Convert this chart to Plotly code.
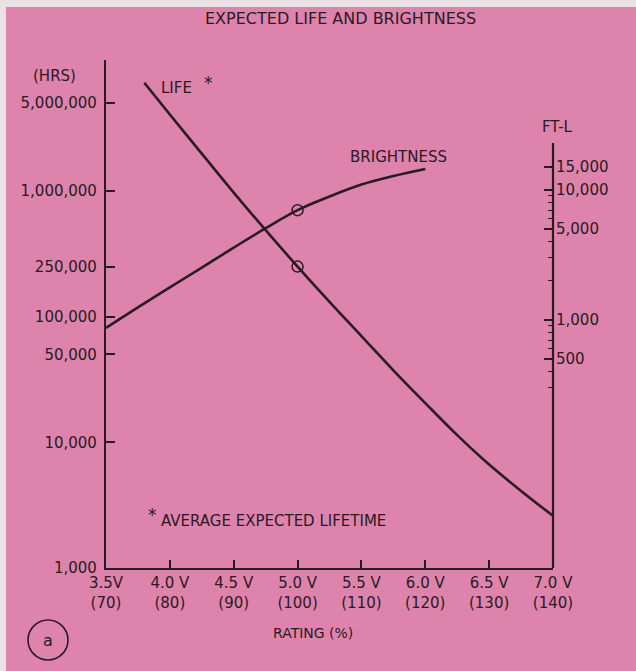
import plotly.graph_objects as go

# Lamp rating (volts) and expected life in hours
life_volts = [3.8, 4.0, 4.25, 4.5, 4.75, 5.0, 5.25, 5.5, 5.75, 6.0, 6.25, 6.5, 6.75, 7.0]
life_hours = [7250000, 4050000, 1980000, 970000, 487000, 250000, 131000, 70000,
              37400, 20500, 11400, 6650, 4100, 2600]

# Lamp rating (volts) and brightness in foot-lamberts
bright_volts = [3.5, 3.75, 4.0, 4.25, 4.5, 4.75, 5.0, 5.25, 5.5, 5.75, 6.0]
bright_ftl = [870, 1250, 1780, 2530, 3600, 5080, 7000, 8900, 11000, 12800, 14500]

# Rated operating point
rated_volts = 5.0

# Axis ticks
x_tickvals = [3.5, 4.0, 4.5, 5.0, 5.5, 6.0, 6.5, 7.0]
x_ticktext = ["3.5V<br>(70)", "4.0 V<br>(80)", "4.5 V<br>(90)", "5.0 V<br>(100)",
              "5.5 V<br>(110)", "6.0 V<br>(120)", "6.5 V<br>(130)", "7.0 V<br>(140)"]
hrs_tickvals = [1000, 10000, 50000, 100000, 250000, 1000000, 5000000]
hrs_ticktext = ["1,000", "10,000", "50,000", "100,000", "250,000", "1,000,000", "5,000,000"]
ftl_tickvals = [500, 1000, 5000, 10000, 15000]
ftl_ticktext = ["500", "1,000", "5,000", "10,000", "15,000"]
ftl_minorvals = [300, 400, 600, 700, 800, 900, 2000, 3000, 4000, 6000, 7000, 8000, 9000]

INK = "#2a1a24"
PINK = "#de83ab"
PAPER_EDGE = "#e8e2e5"
FONT = "DejaVu Sans"

W, H = 636, 671
L, R, T, B = 106, 553, 60, 568


def px(x):
    return (x - L) / (R - L)


def py(y):
    return (B - y) / (B - T)


fig = go.Figure()

fig.add_trace(go.Scatter(
    x=life_volts, y=life_hours, mode="lines", line=dict(color=INK, width=2.6, shape="spline"),
    yaxis="y", showlegend=False, hoverinfo="skip"))

fig.add_trace(go.Scatter(
    x=bright_volts, y=bright_ftl, mode="lines", line=dict(color=INK, width=2.6, shape="spline"),
    yaxis="y2", showlegend=False, hoverinfo="skip"))

# open circles marking the rated point on each curve
i_life = life_volts.index(rated_volts)
i_bright = bright_volts.index(rated_volts)
fig.add_trace(go.Scatter(
    x=[life_volts[i_life]], y=[life_hours[i_life]], mode="markers", yaxis="y",
    marker=dict(symbol="circle-open", size=11, color=INK, line=dict(width=1.5, color=INK)),
    showlegend=False, hoverinfo="skip"))
fig.add_trace(go.Scatter(
    x=[bright_volts[i_bright]], y=[bright_ftl[i_bright]], mode="markers", yaxis="y2",
    marker=dict(symbol="circle-open", size=11, color=INK, line=dict(width=1.5, color=INK)),
    showlegend=False, hoverinfo="skip"))

tickfont = dict(family=FONT, size=15, color=INK)


def label(text, x, y, size=15, xanchor="center"):
    return dict(text=text, xref="paper", yref="paper", x=px(x), y=py(y),
                xanchor=xanchor, yanchor="middle", showarrow=False,
                font=dict(family=FONT, size=size, color=INK))


fig.update_layout(
    width=W, height=H,
    margin=dict(l=L, r=W - R, t=T, b=H - B),
    paper_bgcolor=PINK, plot_bgcolor=PINK,
    font=dict(family=FONT, size=15, color=INK),
    xaxis=dict(
        range=[3.5, 7.0], tickmode="array", tickvals=x_tickvals, ticktext=x_ticktext,
        ticks="inside", ticklen=8, tickwidth=1.6, tickcolor=INK,
        showline=True, linewidth=2.2, linecolor=INK, showgrid=False, zeroline=False,
        tickfont=tickfont, ticklabelstandoff=0,
    ),
    yaxis=dict(
        type="log", range=[3, 3 + (B - T) / 125.7], tickmode="array",
        tickvals=hrs_tickvals, ticktext=hrs_ticktext,
        ticks="inside", ticklen=9, tickwidth=1.6, tickcolor=INK,
        showline=True, linewidth=2.2, linecolor=INK, showgrid=False, zeroline=False,
        tickfont=tickfont, ticklabelstandoff=4,
    ),
    yaxis2=dict(
        type="log", overlaying="y", side="right", range=[1.092, 5.0], tickmode="array",
        tickvals=ftl_tickvals, ticktext=ftl_ticktext,
        ticks="inside", ticklen=9, tickwidth=1.6, tickcolor=INK,
        minor=dict(tickmode="array", tickvals=ftl_minorvals, ticks="inside",
                   ticklen=5, tickwidth=1.4, tickcolor=INK, showgrid=False),
        showline=False, showgrid=False, zeroline=False,
        tickfont=tickfont, ticklabelstandoff=2,
    ),
    shapes=[
        # paper edge strips
        dict(type="rect", xref="paper", yref="paper", x0=px(0), x1=px(6), y0=py(0), y1=py(H),
             fillcolor=PAPER_EDGE, line=dict(width=0), layer="below"),
        dict(type="rect", xref="paper", yref="paper", x0=px(0), x1=px(W), y0=py(0), y1=py(7),
             fillcolor=PAPER_EDGE, line=dict(width=0), layer="below"),
        # right-hand brightness axis line
        dict(type="line", xref="paper", yref="paper", x0=1, x1=1, y0=0, y1=py(143),
             line=dict(color=INK, width=2.2)),
        # figure label circle
        dict(type="circle", xref="paper", yref="paper", x0=px(28), x1=px(68), y0=py(620), y1=py(660),
             line=dict(color=INK, width=1.6)),
    ],
    annotations=[
        label("EXPECTED LIFE AND BRIGHTNESS", 340, 19, size=16),
        label("(HRS)", 54, 76),
        label("FT-L", 557, 127),
        label("LIFE", 159, 88, xanchor="left"),
        label("*", 208, 83, size=17),
        label("BRIGHTNESS", 398, 157),
        label("*", 152, 515, size=17),
        label("AVERAGE EXPECTED LIFETIME", 159, 521, xanchor="left"),
        label("RATING (%)", 313, 633, size=14),
        label("a", 48, 640, size=16),
    ],
)

fig.write_html("out.html")
